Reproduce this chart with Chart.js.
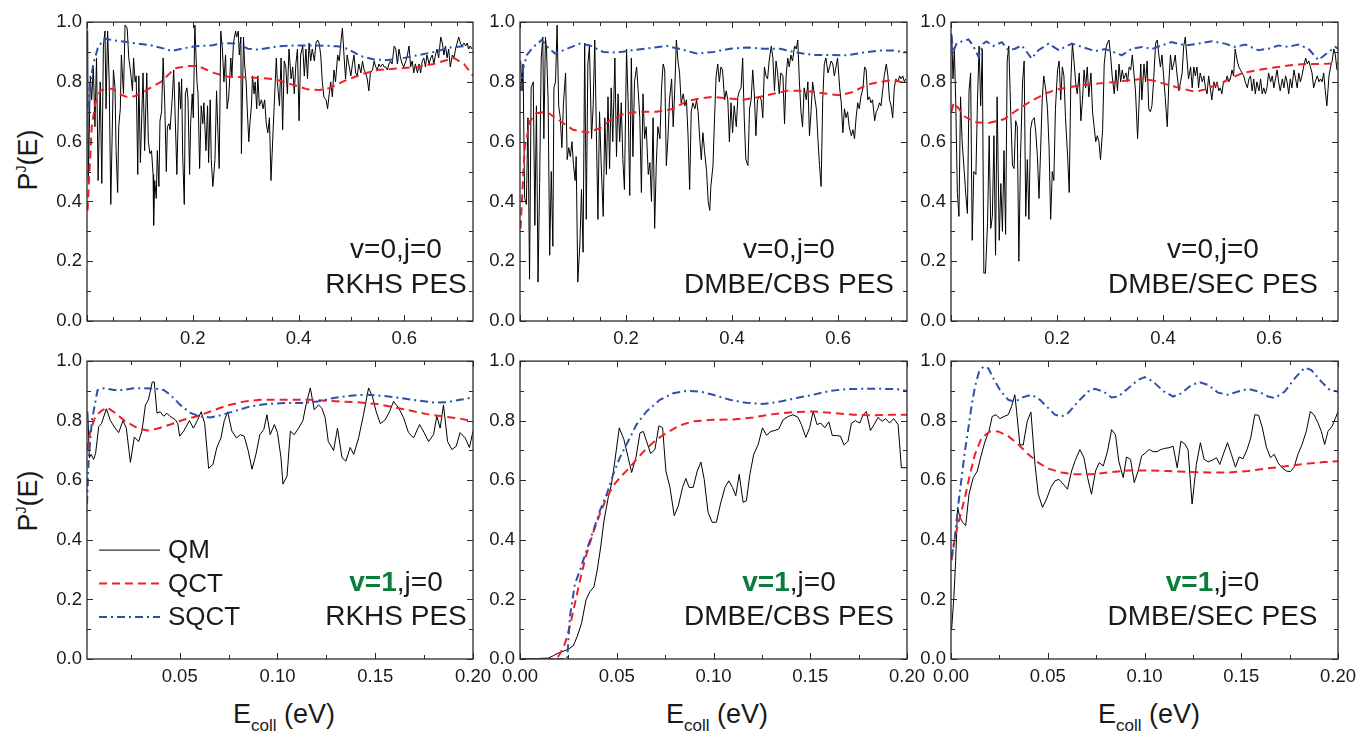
<!DOCTYPE html>
<html><head><meta charset="utf-8">
<script src="https://cdn.jsdelivr.net/npm/chart.js@4.4.1/dist/chart.umd.min.js"></script>
<style>
html,body{margin:0;padding:0;background:#fff;}
body{width:1357px;height:731px;position:relative;overflow:hidden;font-family:"Liberation Sans",Arial,Helvetica,sans-serif;color:#1a1a1a;}
canvas{position:absolute;}
.yt{position:absolute;font-size:27px;line-height:27px;white-space:nowrap;transform:translate(-50%,-50%) rotate(-90deg);}
.yt .sup{font-size:14px;position:relative;top:-11px;}
.xt{position:absolute;font-size:27px;line-height:27px;white-space:nowrap;transform:translateX(-50%);}
.xt .sub{font-size:17px;position:relative;top:8px;}
</style></head>
<body>
<div class="yt" style="left:30px;top:160px">P<span class="sup">J</span>(E)</div>
<div class="yt" style="left:30px;top:501px">P<span class="sup">J</span>(E)</div>
<div class="xt" style="left:284px;top:701px">E<span class="sub">coll</span> (eV)</div>
<div class="xt" style="left:717px;top:701px">E<span class="sub">coll</span> (eV)</div>
<div class="xt" style="left:1149px;top:701px">E<span class="sub">coll</span> (eV)</div>
<script>
// ---------------- tick labels ----------------
const Y_TICKS = [0, 0.2, 0.4, 0.6, 0.8, 1.0];
const TOP_X_TICKS = [0.2, 0.4, 0.6];
const BOT_X_TICKS_A = [0.05, 0.10, 0.15, 0.20];
const BOT_X_TICKS_B = [0.00, 0.05, 0.10, 0.15, 0.20];
const SERIES_NAMES = ['QM', 'QCT', 'SQCT'];

// ---------------- top row: v=0, j=0 (E up to 0.73 eV) ----------------
const E_HI = [0.360,0.364,0.367,0.370,0.373,0.376,0.379,0.382,0.386,0.389,
0.392,0.395,0.398,0.401,0.404,0.408,0.411,0.414,0.417,0.420,
0.423,0.426,0.430,0.433,0.436,0.439,0.442,0.445,0.448,0.452,
0.455,0.458,0.461,0.464,0.467,0.470,0.474,0.477,0.480,0.483,
0.486,0.489,0.492,0.496,0.499,0.502,0.505,0.508,0.511,0.514,
0.518,0.521,0.524,0.527,0.530,0.533,0.536,0.540,0.543,0.546,
0.549,0.552,0.555,0.559,0.562,0.565,0.568,0.571,0.574,0.577,
0.581,0.584,0.587,0.590,0.593,0.596,0.599,0.603,0.606,0.609,
0.612,0.615,0.618,0.621,0.625,0.628,0.631,0.634,0.637,0.640,
0.643,0.647,0.650,0.653,0.656,0.659,0.662,0.665,0.669,0.672,
0.675,0.678,0.681,0.684,0.687,0.691,0.694,0.697,0.700,0.703,
0.706,0.709,0.713,0.716,0.719,0.722,0.725,0.728];

// RKHS
const QM1_E_LO = [0.0013,0.0025,0.0063,0.0088,0.012,0.015,0.018,0.021,0.025,0.028,
0.031,0.034,0.036,0.039,0.042,0.045,0.050,0.053,0.055,0.058,
0.060,0.063,0.065,0.069,0.072,0.076,0.079,0.082,0.086,0.088,
0.091,0.093,0.096,0.098,0.101,0.103,0.106,0.109,0.113,0.116,
0.119,0.122,0.125,0.126,0.128,0.131,0.133,0.136,0.138,0.141,
0.144,0.147,0.150,0.152,0.155,0.157,0.161,0.164,0.166,0.170,
0.174,0.177,0.179,0.181,0.184,0.186,0.189,0.191,0.194,0.196,
0.199,0.201,0.204,0.208,0.210,0.213,0.216,0.219,0.221,0.225,
0.228,0.230,0.233,0.235,0.238,0.242,0.245,0.248,0.250,0.253,
0.256,0.259,0.262,0.265,0.268,0.272,0.274,0.277,0.281,0.283,
0.286,0.288,0.291,0.292,0.296,0.298,0.301,0.303,0.306,0.308,
0.311,0.313,0.316,0.318,0.321,0.323,0.326,0.330,0.333,0.336,
0.339,0.342,0.345,0.348,0.352,0.355,0.358];
const QM1_P_LO = [0.97,0.47,0.82,0.74,0.85,0.65,0.88,0.47,0.80,0.46,
0.92,0.97,0.71,0.97,0.80,0.39,0.84,0.78,0.57,0.43,
0.65,0.71,0.89,0.76,0.99,0.98,0.88,0.84,0.77,0.88,
0.80,0.82,0.49,0.82,0.53,0.65,0.83,0.57,0.83,0.60,
0.56,0.57,0.49,0.32,0.47,0.41,0.57,0.45,0.67,0.70,
0.88,0.73,0.50,0.65,0.66,0.64,0.74,0.84,0.73,0.49,
0.80,0.71,0.81,0.55,0.39,0.76,0.78,0.74,0.49,0.66,
0.76,0.68,0.99,0.80,0.76,0.51,0.72,0.66,0.73,0.57,
0.72,0.53,0.74,0.54,0.45,0.54,0.77,0.61,0.51,0.97,
0.91,0.80,0.89,0.71,0.75,0.88,0.82,0.93,0.97,0.95,
0.97,0.89,0.95,0.56,0.95,0.86,0.80,0.71,0.60,0.66,
0.72,0.82,0.76,0.80,0.71,0.82,0.72,0.74,0.71,0.74,
0.66,0.63,0.68,0.47,0.64,0.76,0.88];
const QM1_P_HI = [0.80,0.72,0.88,0.64,0.87,0.85,0.76,0.91,0.81,0.85,
0.76,0.86,0.91,0.67,0.89,0.92,0.82,0.91,0.81,0.93,
0.87,0.91,0.87,0.93,0.94,0.93,0.89,0.80,0.75,0.74,
0.71,0.76,0.80,0.75,0.84,0.80,0.89,0.87,0.93,0.98,
0.89,0.81,0.89,0.85,0.82,0.86,0.89,0.83,0.82,0.86,
0.83,0.87,0.84,0.83,0.81,0.77,0.83,0.84,0.87,0.85,
0.84,0.86,0.85,0.86,0.85,0.85,0.84,0.86,0.87,0.86,
0.92,0.91,0.86,0.91,0.88,0.86,0.85,0.87,0.89,0.92,
0.85,0.87,0.83,0.86,0.83,0.86,0.83,0.87,0.88,0.85,
0.89,0.86,0.88,0.89,0.86,0.89,0.91,0.88,0.95,0.93,
0.89,0.92,0.88,0.91,0.85,0.89,0.88,0.91,0.93,0.95,
0.93,0.92,0.93,0.92,0.93,0.91,0.92,0.91];
const QCT1_E = [0.001,0.005,0.009,0.016,0.025,0.038,0.05,0.06,0.075,0.09,0.11,0.14,0.166,0.19,0.21,0.24,0.267,0.31,0.35,0.36,0.39,0.417,0.44,0.46,0.49,0.524,0.55,0.59,0.625,0.656,0.694,0.713,0.724,0.73];
const QCT1_P = [0.37,0.51,0.65,0.73,0.77,0.78,0.775,0.76,0.75,0.752,0.77,0.80,0.845,0.853,0.853,0.83,0.817,0.815,0.81,0.806,0.79,0.775,0.773,0.78,0.806,0.828,0.84,0.845,0.85,0.86,0.88,0.86,0.834,0.82];
const SQCT1_E = [0.001,0.006,0.012,0.021,0.034,0.047,0.072,0.097,0.122,0.147,0.160,0.179,0.204,0.235,0.260,0.286,0.304,0.323,0.348,0.360,0.398,0.436,0.474,0.492,0.518,0.543,0.568,0.593,0.625,0.656,0.687,0.713,0.728];
const SQCT1_P = [0.71,0.795,0.86,0.917,0.945,0.94,0.934,0.928,0.922,0.911,0.903,0.911,0.919,0.922,0.93,0.928,0.911,0.908,0.915,0.919,0.922,0.922,0.919,0.911,0.886,0.875,0.873,0.878,0.889,0.90,0.915,0.919,0.915];

// DMBE/CBS
const QM2_E_LO = [0.0013,0.0038,0.0057,0.0088,0.012,0.015,0.018,0.021,0.025,0.028,
0.031,0.034,0.037,0.040,0.043,0.045,0.048,0.050,0.053,0.056,
0.059,0.062,0.064,0.067,0.070,0.073,0.076,0.079,0.082,0.086,
0.089,0.092,0.095,0.098,0.101,0.104,0.106,0.109,0.113,0.116,
0.119,0.122,0.125,0.128,0.131,0.135,0.138,0.141,0.144,0.147,
0.150,0.153,0.157,0.160,0.163,0.166,0.169,0.172,0.175,0.179,
0.182,0.185,0.188,0.191,0.194,0.197,0.201,0.204,0.207,0.210,
0.213,0.216,0.220,0.223,0.226,0.229,0.232,0.235,0.238,0.242,
0.245,0.248,0.251,0.254,0.257,0.260,0.264,0.267,0.270,0.273,
0.276,0.279,0.282,0.286,0.289,0.292,0.295,0.298,0.301,0.304,
0.308,0.311,0.314,0.317,0.320,0.323,0.326,0.330,0.333,0.336,
0.339,0.342,0.345,0.348,0.352,0.355,0.358];
const QM2_P_LO = [0.87,0.77,0.86,0.41,0.39,0.68,0.14,0.78,0.80,0.32,
0.72,0.13,0.46,0.88,0.95,0.61,0.95,0.91,0.74,0.22,
0.50,0.25,0.78,0.80,0.99,0.72,0.68,0.58,0.73,0.83,
0.54,0.58,0.55,0.60,0.52,0.47,0.55,0.13,0.26,0.44,
0.23,0.93,0.34,0.86,0.92,0.61,0.72,0.94,0.64,0.34,
0.70,0.53,0.35,0.68,0.49,0.75,0.51,0.78,0.60,0.88,
0.55,0.76,0.60,0.73,0.54,0.44,0.91,0.73,0.42,0.88,
0.55,0.80,0.85,0.77,0.68,0.43,0.76,0.61,0.65,0.49,
0.53,0.40,0.68,0.31,0.52,0.65,0.61,0.78,0.86,0.84,
0.52,0.61,0.74,0.81,0.65,0.78,0.94,0.87,0.83,0.73,
0.76,0.72,0.74,0.62,0.44,0.70,0.73,0.71,0.74,0.70,
0.61,0.54,0.63,0.57,0.50,0.40,0.37];
const QM2_P_HI = [0.45,0.52,0.68,0.82,0.86,0.80,0.85,0.84,0.74,0.77,
0.74,0.60,0.73,0.63,0.72,0.65,0.75,0.77,0.78,0.88,
0.68,0.54,0.52,0.71,0.74,0.84,0.76,0.62,0.74,0.75,
0.74,0.68,0.85,0.82,0.81,0.87,0.92,0.88,0.77,0.87,
0.83,0.76,0.83,0.82,0.66,0.82,0.88,0.85,0.89,0.87,
0.92,0.91,0.94,0.80,0.70,0.65,0.78,0.74,0.80,0.62,
0.70,0.80,0.76,0.71,0.61,0.52,0.45,0.74,0.86,0.88,
0.83,0.85,0.87,0.86,0.82,0.85,0.88,0.78,0.73,0.63,
0.71,0.68,0.70,0.65,0.62,0.64,0.61,0.68,0.73,0.71,
0.75,0.78,0.85,0.84,0.74,0.75,0.73,0.74,0.67,0.70,
0.71,0.73,0.72,0.77,0.82,0.86,0.82,0.74,0.72,0.68,
0.78,0.81,0.80,0.82,0.81,0.82,0.80,0.81];
const QCT2_E = [0.001,0.005,0.009,0.019,0.031,0.05,0.075,0.10,0.126,0.151,0.176,0.20,0.226,0.258,0.289,0.314,0.34,0.365,0.39,0.421,0.453,0.478,0.503,0.528,0.553,0.579,0.604,0.629,0.654,0.679,0.704,0.73];
const QCT2_P = [0.31,0.45,0.58,0.67,0.695,0.70,0.67,0.64,0.63,0.645,0.68,0.695,0.70,0.70,0.71,0.735,0.745,0.75,0.745,0.74,0.75,0.76,0.77,0.77,0.767,0.76,0.755,0.767,0.79,0.80,0.806,0.795];
const SQCT2_E = [0.001,0.006,0.013,0.025,0.041,0.05,0.066,0.088,0.113,0.132,0.157,0.182,0.214,0.25,0.277,0.302,0.333,0.365,0.396,0.428,0.459,0.49,0.522,0.553,0.585,0.616,0.648,0.679,0.704,0.73];
const SQCT2_P = [0.77,0.845,0.89,0.917,0.94,0.92,0.895,0.91,0.928,0.922,0.90,0.898,0.906,0.914,0.92,0.91,0.895,0.90,0.911,0.915,0.911,0.911,0.898,0.89,0.89,0.889,0.898,0.905,0.905,0.898];

// DMBE/SEC
const QM3_E_LO = [0.0013,0.0038,0.0063,0.0088,0.012,0.015,0.018,0.021,0.025,0.028,
0.031,0.034,0.037,0.040,0.043,0.047,0.050,0.053,0.056,0.059,
0.062,0.065,0.069,0.072,0.075,0.078,0.081,0.084,0.087,0.091,
0.094,0.097,0.100,0.103,0.106,0.109,0.113,0.116,0.119,0.122,
0.125,0.128,0.131,0.135,0.138,0.141,0.144,0.147,0.150,0.153,
0.157,0.160,0.163,0.166,0.169,0.172,0.175,0.179,0.182,0.185,
0.188,0.191,0.194,0.197,0.201,0.204,0.207,0.210,0.213,0.216,
0.220,0.223,0.226,0.229,0.232,0.235,0.238,0.242,0.245,0.248,
0.251,0.254,0.257,0.260,0.264,0.267,0.270,0.273,0.276,0.279,
0.282,0.286,0.289,0.292,0.295,0.298,0.301,0.304,0.308,0.311,
0.314,0.317,0.320,0.323,0.326,0.330,0.333,0.336,0.339,0.342,
0.345,0.348,0.352,0.355,0.358];
const QM3_P_LO = [0.96,0.81,0.91,0.74,0.43,0.35,0.75,0.60,0.50,0.42,
0.36,0.77,0.83,0.27,0.50,0.49,0.74,0.92,0.72,0.91,
0.16,0.16,0.33,0.62,0.31,0.35,0.62,0.22,0.75,0.27,
0.46,0.30,0.57,0.29,0.87,0.92,0.68,0.52,0.51,0.67,
0.65,0.20,0.54,0.80,0.87,0.35,0.54,0.34,0.64,0.67,
0.68,0.63,0.55,0.41,0.57,0.74,0.82,0.77,0.71,0.58,
0.34,0.50,0.47,0.71,0.84,0.87,0.74,0.85,0.82,0.68,
0.55,0.43,0.80,0.93,0.87,0.80,0.76,0.83,0.67,0.74,
0.84,0.78,0.85,0.75,0.83,0.70,0.65,0.60,0.62,0.60,
0.54,0.64,0.86,0.91,0.93,0.94,0.89,0.82,0.76,0.84,
0.77,0.86,0.80,0.84,0.81,0.83,0.80,0.85,0.84,0.89,
0.83,0.77,0.61,0.74,0.86];
const QM3_P_HI = [0.74,0.86,0.80,0.87,0.71,0.70,0.72,0.80,0.93,0.94,
0.89,0.85,0.89,0.82,0.75,0.65,0.80,0.89,0.84,0.86,
0.89,0.83,0.77,0.80,0.83,0.92,0.95,0.88,0.81,0.85,
0.78,0.85,0.82,0.85,0.78,0.83,0.80,0.82,0.78,0.76,
0.82,0.78,0.74,0.80,0.78,0.80,0.77,0.78,0.76,0.80,
0.80,0.82,0.80,0.81,0.84,0.82,0.91,0.87,0.85,0.84,
0.83,0.82,0.80,0.78,0.81,0.82,0.77,0.81,0.76,0.80,
0.77,0.81,0.76,0.78,0.76,0.78,0.83,0.80,0.82,0.78,
0.81,0.84,0.80,0.77,0.81,0.78,0.82,0.80,0.76,0.81,
0.78,0.84,0.81,0.78,0.83,0.80,0.82,0.85,0.88,0.86,
0.87,0.85,0.83,0.78,0.80,0.82,0.80,0.81,0.80,0.83,
0.77,0.72,0.82,0.85,0.87,0.91,0.89,0.84];
const QCT3_E = [0.001,0.005,0.015,0.025,0.045,0.07,0.10,0.12,0.15,0.18,0.20,0.24,0.28,0.31,0.34,0.36,0.38,0.40,0.43,0.46,0.48,0.50,0.52,0.55,0.58,0.61,0.64,0.67,0.70,0.73];
const QCT3_P = [0.70,0.73,0.71,0.685,0.665,0.662,0.675,0.70,0.735,0.762,0.775,0.787,0.795,0.80,0.806,0.81,0.805,0.795,0.78,0.767,0.775,0.79,0.805,0.83,0.84,0.848,0.856,0.86,0.86,0.862];
const SQCT3_E = [0.001,0.004,0.011,0.02,0.033,0.042,0.052,0.061,0.067,0.08,0.096,0.108,0.121,0.133,0.143,0.152,0.165,0.184,0.203,0.228,0.247,0.272,0.291,0.309,0.322,0.341,0.36,0.379,0.397,0.416,0.442,0.467,0.492,0.517,0.536,0.555,0.58,0.599,0.618,0.636,0.655,0.674,0.693,0.712,0.725,0.73];
const SQCT3_P = [0.955,0.90,0.93,0.935,0.942,0.92,0.884,0.928,0.935,0.92,0.933,0.906,0.911,0.922,0.90,0.878,0.906,0.928,0.906,0.928,0.917,0.903,0.91,0.898,0.889,0.911,0.917,0.91,0.922,0.933,0.922,0.928,0.936,0.928,0.917,0.925,0.906,0.911,0.922,0.917,0.925,0.911,0.873,0.90,0.917,0.911];

// ---------------- bottom row: v=1, j=0 (E up to 0.2 eV) ----------------
const QM4_E = [0.003,0.0038,0.0047,0.006,0.007,0.0086,0.010,0.0125,0.0146,0.017,
0.0188,0.021,0.0227,0.0248,0.0268,0.029,0.0307,0.0325,0.034,0.036,
0.037,0.0384,0.040,0.0418,0.0435,0.045,0.0478,0.049,0.050,0.052,
0.055,0.057,0.059,0.061,0.0628,0.0648,0.067,0.069,0.0711,0.0728,
0.0745,0.0767,0.079,0.081,0.083,0.085,0.087,0.089,0.091,0.093,
0.0946,0.0963,0.0984,0.100,0.1018,0.1028,0.1049,0.1066,0.1086,0.1108,
0.113,0.1146,0.1168,0.1188,0.121,0.1227,0.1244,0.126,0.1287,0.1307,
0.133,0.135,0.1372,0.139,0.1415,0.144,0.1466,0.1486,0.1505,0.1526,
0.1551,0.1573,0.1594,0.162,0.1645,0.167,0.1696,0.1727,0.175,0.1773,
0.1798,0.1815,0.1832,0.1849,0.187,0.1892,0.1914,0.1934,0.196,0.1982,0.2];
const QM4_P = [0.83,0.675,0.687,0.67,0.69,0.78,0.79,0.84,0.80,0.775,
0.76,0.80,0.775,0.66,0.745,0.73,0.765,0.853,0.87,0.93,
0.93,0.825,0.83,0.815,0.825,0.815,0.803,0.79,0.748,0.765,
0.80,0.775,0.80,0.83,0.79,0.64,0.653,0.71,0.742,0.80,
0.83,0.765,0.742,0.753,0.748,0.70,0.637,0.687,0.753,0.77,
0.82,0.753,0.787,0.76,0.676,0.587,0.614,0.765,0.753,0.775,
0.80,0.853,0.91,0.837,0.853,0.842,0.81,0.73,0.70,0.775,
0.676,0.664,0.71,0.687,0.742,0.82,0.91,0.88,0.83,0.79,
0.803,0.83,0.865,0.842,0.81,0.76,0.742,0.787,0.76,0.73,
0.753,0.815,0.775,0.853,0.73,0.703,0.714,0.76,0.742,0.71,0.765];
const QCT4_E = [0.0026,0.0043,0.0069,0.010,0.0129,0.017,0.0222,0.0282,0.0333,0.0384,0.0452,0.052,0.0589,0.0657,0.0742,0.0827,0.0912,0.0997,0.1083,0.1168,0.1253,0.1338,0.1423,0.1509,0.1594,0.1679,0.1764,0.1849,0.1934,0.2];
const QCT4_P = [0.70,0.765,0.815,0.833,0.845,0.826,0.798,0.776,0.767,0.773,0.787,0.803,0.815,0.831,0.851,0.864,0.87,0.87,0.87,0.87,0.867,0.864,0.861,0.856,0.845,0.834,0.822,0.814,0.807,0.798];
const SQCT4_E = [0.0026,0.0035,0.0051,0.0069,0.008,0.0112,0.0163,0.0214,0.0265,0.0316,0.0384,0.0418,0.0452,0.0503,0.0555,0.0606,0.0657,0.0708,0.0776,0.0861,0.0946,0.1032,0.1117,0.1202,0.1287,0.1372,0.1457,0.1543,0.1628,0.1713,0.1798,0.1866,0.1934,0.2];
const SQCT4_P = [0.52,0.675,0.80,0.864,0.903,0.909,0.903,0.903,0.909,0.909,0.907,0.903,0.887,0.853,0.826,0.814,0.811,0.818,0.831,0.848,0.856,0.859,0.859,0.864,0.876,0.884,0.887,0.883,0.876,0.868,0.861,0.862,0.87,0.878];

const QM5_E = [0,0.0103,0.0146,0.0172,0.0198,0.0224,0.025,0.0275,0.0296,0.0318,
0.0341,0.0361,0.0382,0.0399,0.0417,0.0434,0.0456,0.0473,0.049,0.0513,
0.0537,0.0559,0.0577,0.0599,0.062,0.0637,0.0654,0.0675,0.0697,0.0718,
0.0737,0.0754,0.0775,0.0797,0.0818,0.084,0.0857,0.0874,0.0895,0.0916,
0.0935,0.0952,0.0972,0.0993,0.1015,0.1036,0.1059,0.1079,0.1098,0.1115,
0.1133,0.1153,0.117,0.1188,0.1208,0.1231,0.1253,0.1274,0.1296,0.1317,
0.1337,0.136,0.1386,0.1411,0.1437,0.1454,0.1477,0.1497,0.1515,0.1535,
0.1554,0.1575,0.1596,0.1614,0.1635,0.1656,0.1675,0.1695,0.1713,0.1733,
0.1756,0.1773,0.179,0.1811,0.183,0.185,0.1871,0.189,0.191,0.1931,
0.1954,0.1971,0.2];
const QM5_P = [0.0,0.002,0.003,0.011,0.02,0.026,0.033,0.044,0.076,0.12,
0.198,0.226,0.242,0.298,0.376,0.464,0.542,0.587,0.664,0.776,
0.737,0.676,0.626,0.676,0.759,0.764,0.731,0.69,0.703,0.783,
0.776,0.631,0.576,0.481,0.514,0.576,0.606,0.576,0.576,0.631,
0.661,0.603,0.492,0.459,0.459,0.52,0.576,0.598,0.576,0.548,
0.62,0.526,0.531,0.62,0.687,0.72,0.776,0.751,0.764,0.767,
0.772,0.803,0.814,0.82,0.811,0.787,0.744,0.776,0.831,0.787,
0.792,0.776,0.796,0.75,0.75,0.748,0.718,0.731,0.792,0.80,
0.792,0.82,0.831,0.767,0.787,0.811,0.798,0.807,0.792,0.807,
0.787,0.642,0.642];
const QCT5_E = [0,0.019,0.0224,0.0244,0.0267,0.0293,0.0318,0.0344,0.0379,0.0413,0.0448,0.0482,0.0516,0.0559,0.0602,0.0654,0.0706,0.0757,0.0826,0.0895,0.0998,0.1102,0.1205,0.1308,0.1411,0.1515,0.1618,0.1721,0.1824,0.1928,0.2];
const QCT5_P = [0,0,0.037,0.076,0.137,0.214,0.287,0.353,0.426,0.487,0.542,0.581,0.609,0.637,0.67,0.707,0.737,0.759,0.784,0.798,0.803,0.804,0.811,0.822,0.829,0.831,0.826,0.82,0.818,0.82,0.82];
const SQCT5_E = [0,0.0244,0.0258,0.0284,0.031,0.0344,0.0379,0.0413,0.0448,0.0482,0.0516,0.0559,0.0602,0.0654,0.0723,0.0792,0.0861,0.0929,0.0998,0.1084,0.117,0.1256,0.1343,0.1429,0.1515,0.1601,0.1687,0.1773,0.1859,0.1945,0.2];
const SQCT5_P = [0,0,0.142,0.253,0.298,0.364,0.431,0.498,0.553,0.62,0.676,0.731,0.787,0.831,0.87,0.892,0.90,0.898,0.887,0.87,0.86,0.856,0.864,0.876,0.887,0.90,0.906,0.907,0.907,0.906,0.90];

const QM6_E = [0.0003,0.0015,0.0024,0.0034,0.0046,0.006,0.0076,0.0093,0.0115,0.0136,
0.0155,0.0176,0.0196,0.0213,0.0232,0.0253,0.0274,0.0296,0.0313,0.033,
0.0339,0.0356,0.0373,0.0394,0.0413,0.0434,0.0451,0.0473,0.0494,0.0516,
0.0537,0.0558,0.058,0.0602,0.0623,0.0644,0.0666,0.0687,0.0706,0.0726,
0.0747,0.0766,0.0787,0.0809,0.083,0.085,0.0867,0.089,0.0907,0.0928,
0.0947,0.0967,0.0985,0.1005,0.1024,0.1045,0.1065,0.1084,0.1105,0.1126,
0.1148,0.1169,0.1188,0.1208,0.1225,0.1246,0.1268,0.1289,0.1308,0.1329,
0.1349,0.1372,0.1389,0.141,0.1429,0.1449,0.147,0.1489,0.1509,0.153,
0.1549,0.157,0.159,0.1609,0.163,0.1651,0.167,0.169,0.1711,0.1733,
0.1754,0.1773,0.1793,0.1814,0.1836,0.1857,0.1876,0.1897,0.1914,0.1931,
0.1948,0.1969,0.1986,0.2];
const QM6_P = [0.098,0.209,0.331,0.509,0.476,0.459,0.448,0.553,0.609,0.631,
0.681,0.731,0.764,0.814,0.82,0.807,0.814,0.82,0.848,0.887,
0.831,0.72,0.718,0.798,0.829,0.653,0.553,0.509,0.537,0.576,
0.598,0.603,0.587,0.57,0.631,0.67,0.703,0.676,0.609,0.553,
0.631,0.659,0.648,0.698,0.77,0.753,0.664,0.609,0.678,0.67,
0.592,0.631,0.681,0.692,0.703,0.696,0.696,0.703,0.707,0.709,
0.714,0.642,0.731,0.722,0.703,0.52,0.653,0.726,0.67,0.662,
0.667,0.676,0.653,0.692,0.726,0.687,0.644,0.678,0.672,0.703,
0.742,0.82,0.818,0.776,0.711,0.676,0.687,0.659,0.642,0.631,
0.629,0.644,0.687,0.72,0.764,0.831,0.82,0.792,0.764,0.72,
0.764,0.781,0.807,0.831];
const QCT6_E = [0.0003,0.002,0.0046,0.0072,0.0098,0.0124,0.0158,0.0201,0.0244,0.0296,0.0348,0.0399,0.0451,0.0503,0.0571,0.064,0.0726,0.0812,0.0916,0.1019,0.1122,0.1225,0.1329,0.1432,0.1535,0.1639,0.1742,0.1845,0.1931,0.2];
const QCT6_P = [0.331,0.409,0.476,0.542,0.62,0.687,0.742,0.764,0.764,0.748,0.72,0.687,0.659,0.639,0.626,0.62,0.62,0.626,0.633,0.633,0.631,0.628,0.626,0.626,0.631,0.64,0.648,0.656,0.661,0.664];
const SQCT6_E = [0.0003,0.002,0.0038,0.0055,0.0072,0.009,0.0107,0.0124,0.0145,0.0167,0.0193,0.0219,0.0253,0.0296,0.033,0.0373,0.0417,0.046,0.0503,0.0537,0.0571,0.0606,0.0657,0.0709,0.0744,0.0787,0.083,0.0864,0.0916,0.0967,0.1002,0.1045,0.1096,0.1148,0.1191,0.1243,0.1286,0.1329,0.138,0.1432,0.1484,0.1535,0.1587,0.1639,0.1673,0.1725,0.1776,0.1828,0.1862,0.1914,0.1957,0.2];
const SQCT6_P = [0.342,0.409,0.52,0.609,0.698,0.776,0.853,0.914,0.964,0.981,0.976,0.942,0.903,0.87,0.864,0.879,0.887,0.87,0.842,0.82,0.814,0.826,0.864,0.898,0.907,0.898,0.878,0.881,0.909,0.937,0.946,0.931,0.90,0.881,0.892,0.92,0.929,0.92,0.894,0.887,0.898,0.907,0.898,0.881,0.876,0.898,0.942,0.978,0.97,0.931,0.903,0.898];

// ---------------- helpers ----------------
function pts(xs, ys){ const n = Math.min(xs.length, ys.length); const o = []; for (let i = 0; i < n; i++) o.push({x: xs[i], y: ys[i]}); return o; }
const FONT = '"Liberation Sans", Arial, Helvetica, sans-serif';
const TXT = '#1a1a1a';
const GREEN = '#0b7d3a';
const NOTE_FONT = 28;
const TICK_FONT = 18.5;
const STYLE = [
  {borderColor: '#000000', borderWidth: 1, borderDash: [], order: 3},
  {borderColor: '#ee2026', borderWidth: 2, borderDash: [8, 5], order: 2},
  {borderColor: '#2f50aa', borderWidth: 2, borderDash: [8, 4, 2, 4], order: 1}
];
const COLS = [[87, 473], [520, 907], [951, 1338]];
const ROWS = [[20, 321], [359, 659]];
const PAD = {left: 80, top: 14, right: 30, bottom: 40};

const PANELS = [
  {c:0, r:0, xMin:0, xMax:0.73, ticks:TOP_X_TICKS, dec:1, xMaj:0.2, xMin2:0.05,
   data:[pts(QM1_E_LO.concat(E_HI), QM1_P_LO.concat(QM1_P_HI)), pts(QCT1_E, QCT1_P), pts(SQCT1_E, SQCT1_P)],
   cx:-77, lines:[[{t:'v=0,j=0'}],[{t:'RKHS PES'}]], base:[235.5, 271]},
  {c:1, r:0, xMin:0, xMax:0.73, ticks:TOP_X_TICKS, dec:1, xMaj:0.2, xMin2:0.05,
   data:[pts(QM2_E_LO.concat(E_HI), QM2_P_LO.concat(QM2_P_HI)), pts(QCT2_E, QCT2_P), pts(SQCT2_E, SQCT2_P)],
   cx:-118, lines:[[{t:'v=0,j=0'}],[{t:'DMBE/CBS PES'}]], base:[235.5, 271]},
  {c:2, r:0, xMin:0, xMax:0.73, ticks:TOP_X_TICKS, dec:1, xMaj:0.2, xMin2:0.05,
   data:[pts(QM3_E_LO.concat(E_HI), QM3_P_LO.concat(QM3_P_HI)), pts(QCT3_E, QCT3_P), pts(SQCT3_E, SQCT3_P)],
   cx:-125, lines:[[{t:'v=0,j=0'}],[{t:'DMBE/SEC PES'}]], base:[235.5, 271]},
  {c:0, r:1, xMin:0.0026, xMax:0.2, ticks:BOT_X_TICKS_A, dec:2, xMaj:0.05, xMin2:0.025, legend:true,
   data:[pts(QM4_E, QM4_P), pts(QCT4_E, QCT4_P), pts(SQCT4_E, SQCT4_P)],
   cx:-77, lines:[[{t:'v=1', b:true, col:GREEN},{t:',j=0'}],[{t:'RKHS PES'}]], base:[229.5, 264]},
  {c:1, r:1, xMin:0, xMax:0.2, ticks:BOT_X_TICKS_B, dec:2, xMaj:0.05, xMin2:0.025,
   data:[pts(QM5_E, QM5_P), pts(QCT5_E, QCT5_P), pts(SQCT5_E, SQCT5_P)],
   cx:-118, lines:[[{t:'v=1', b:true, col:GREEN},{t:',j=0'}],[{t:'DMBE/CBS PES'}]], base:[229.5, 264]},
  {c:2, r:1, xMin:0, xMax:0.2, ticks:BOT_X_TICKS_B, dec:2, xMaj:0.05, xMin2:0.025,
   data:[pts(QM6_E, QM6_P), pts(QCT6_E, QCT6_P), pts(SQCT6_E, SQCT6_P)],
   cx:-125.5, lines:[[{t:'v=1', b:true, col:GREEN},{t:',j=0'}],[{t:'DMBE/SEC PES'}]], base:[229.5, 264]}
];

function drawTicks(ctx, scale, a, horiz, major, minor){
  const lo = scale.min, hi = scale.max;
  const i0 = Math.ceil(lo / minor - 1e-6), i1 = Math.floor(hi / minor + 1e-6);
  for (let i = i0; i <= i1; i++) {
    const v = i * minor;
    const r = v / major;
    const len = Math.abs(r - Math.round(r)) < 1e-6 ? 6 : 4;
    const p = Math.round(scale.getPixelForValue(v)) + 0.5;
    ctx.beginPath();
    if (horiz) { ctx.moveTo(p, a.bottom); ctx.lineTo(p, a.bottom - len); ctx.moveTo(p, a.top); ctx.lineTo(p, a.top + len); }
    else { ctx.moveTo(a.left, p); ctx.lineTo(a.left + len, p); ctx.moveTo(a.right, p); ctx.lineTo(a.right - len, p); }
    ctx.stroke();
  }
}

function makeDecor(P){
  return {
    id: 'decor',
    afterDatasetsDraw(chart){
      const ctx = chart.ctx, a = chart.chartArea, sx = chart.scales.x, sy = chart.scales.y;
      ctx.save();
      ctx.strokeStyle = '#2a2a2a';
      ctx.lineWidth = 1;
      drawTicks(ctx, sx, a, true, P.xMaj, P.xMin2);
      drawTicks(ctx, sy, a, false, 0.2, 0.1);
      ctx.lineWidth = 1.3;
      ctx.strokeRect(a.left, a.top, a.right - a.left, a.bottom - a.top);
      // panel annotation
      const cx = a.right + P.cx;
      ctx.textBaseline = 'alphabetic';
      ctx.textAlign = 'left';
      P.lines.forEach((segs, li) => {
        let w = 0;
        segs.forEach(s => { ctx.font = (s.b ? 'bold ' : '') + NOTE_FONT + 'px ' + FONT; w += ctx.measureText(s.t).width; });
        let x = cx - w / 2;
        segs.forEach(s => {
          ctx.font = (s.b ? 'bold ' : '') + NOTE_FONT + 'px ' + FONT;
          ctx.fillStyle = s.col || TXT;
          ctx.fillText(s.t, x, a.top + P.base[li]);
          x += ctx.measureText(s.t).width;
        });
      });
      // legend
      if (P.legend) {
        chart.data.datasets.forEach((ds, i) => {
          const yy = a.top + 189 + i * 33.5;
          ctx.save();
          ctx.strokeStyle = ds.borderColor; ctx.lineWidth = ds.borderWidth; ctx.setLineDash(ds.borderDash || []);
          ctx.beginPath(); ctx.moveTo(a.left + 12, yy); ctx.lineTo(a.left + 73, yy); ctx.stroke();
          ctx.restore();
          ctx.font = '26px ' + FONT; ctx.fillStyle = TXT; ctx.textBaseline = 'middle';
          ctx.fillText(ds.label, a.left + 81, yy + 1);
        });
      }
      ctx.restore();
    }
  };
}

PANELS.forEach((P) => {
  const [L, R] = COLS[P.c], [T, B] = ROWS[P.r];
  const cv = document.createElement('canvas');
  const W = (R - L) + PAD.left + PAD.right, H = (B - T) + PAD.top + PAD.bottom;
  cv.width = W; cv.height = H;
  cv.style.left = (L - PAD.left) + 'px'; cv.style.top = (T - PAD.top) + 'px';
  cv.style.width = W + 'px'; cv.style.height = H + 'px';
  document.body.appendChild(cv);
  new Chart(cv, {
    type: 'line',
    data: {
      datasets: P.data.map((d, i) => Object.assign({
        label: SERIES_NAMES[i], data: d, pointRadius: 0, pointHoverRadius: 0, tension: 0, fill: false
      }, STYLE[i]))
    },
    options: {
      responsive: false, animation: false, devicePixelRatio: 1,
      layout: {padding: {left: 0, top: PAD.top, right: PAD.right, bottom: 0}},
      plugins: {legend: {display: false}, tooltip: {enabled: false}},
      events: [],
      scales: {
        x: {
          type: 'linear', min: P.xMin, max: P.xMax,
          grid: {display: false, drawTicks: false}, border: {display: false},
          afterBuildTicks: s => { s.ticks = P.ticks.map(v => ({value: v})); },
          afterFit: s => { s.height = PAD.bottom; },
          ticks: {padding: 7, color: TXT, font: {family: FONT, size: TICK_FONT}, maxRotation: 0, autoSkip: false,
                  callback: v => Number(v).toFixed(P.dec)}
        },
        y: {
          type: 'linear', min: 0, max: 1,
          grid: {display: false, drawTicks: false}, border: {display: false},
          afterBuildTicks: s => { s.ticks = Y_TICKS.map(v => ({value: v})); },
          afterFit: s => { s.width = PAD.left; },
          ticks: {padding: 5, color: TXT, font: {family: FONT, size: TICK_FONT}, autoSkip: false,
                  callback: v => Number(v).toFixed(1)}
        }
      }
    },
    plugins: [makeDecor(P)]
  });
});
</script>
</body></html>
